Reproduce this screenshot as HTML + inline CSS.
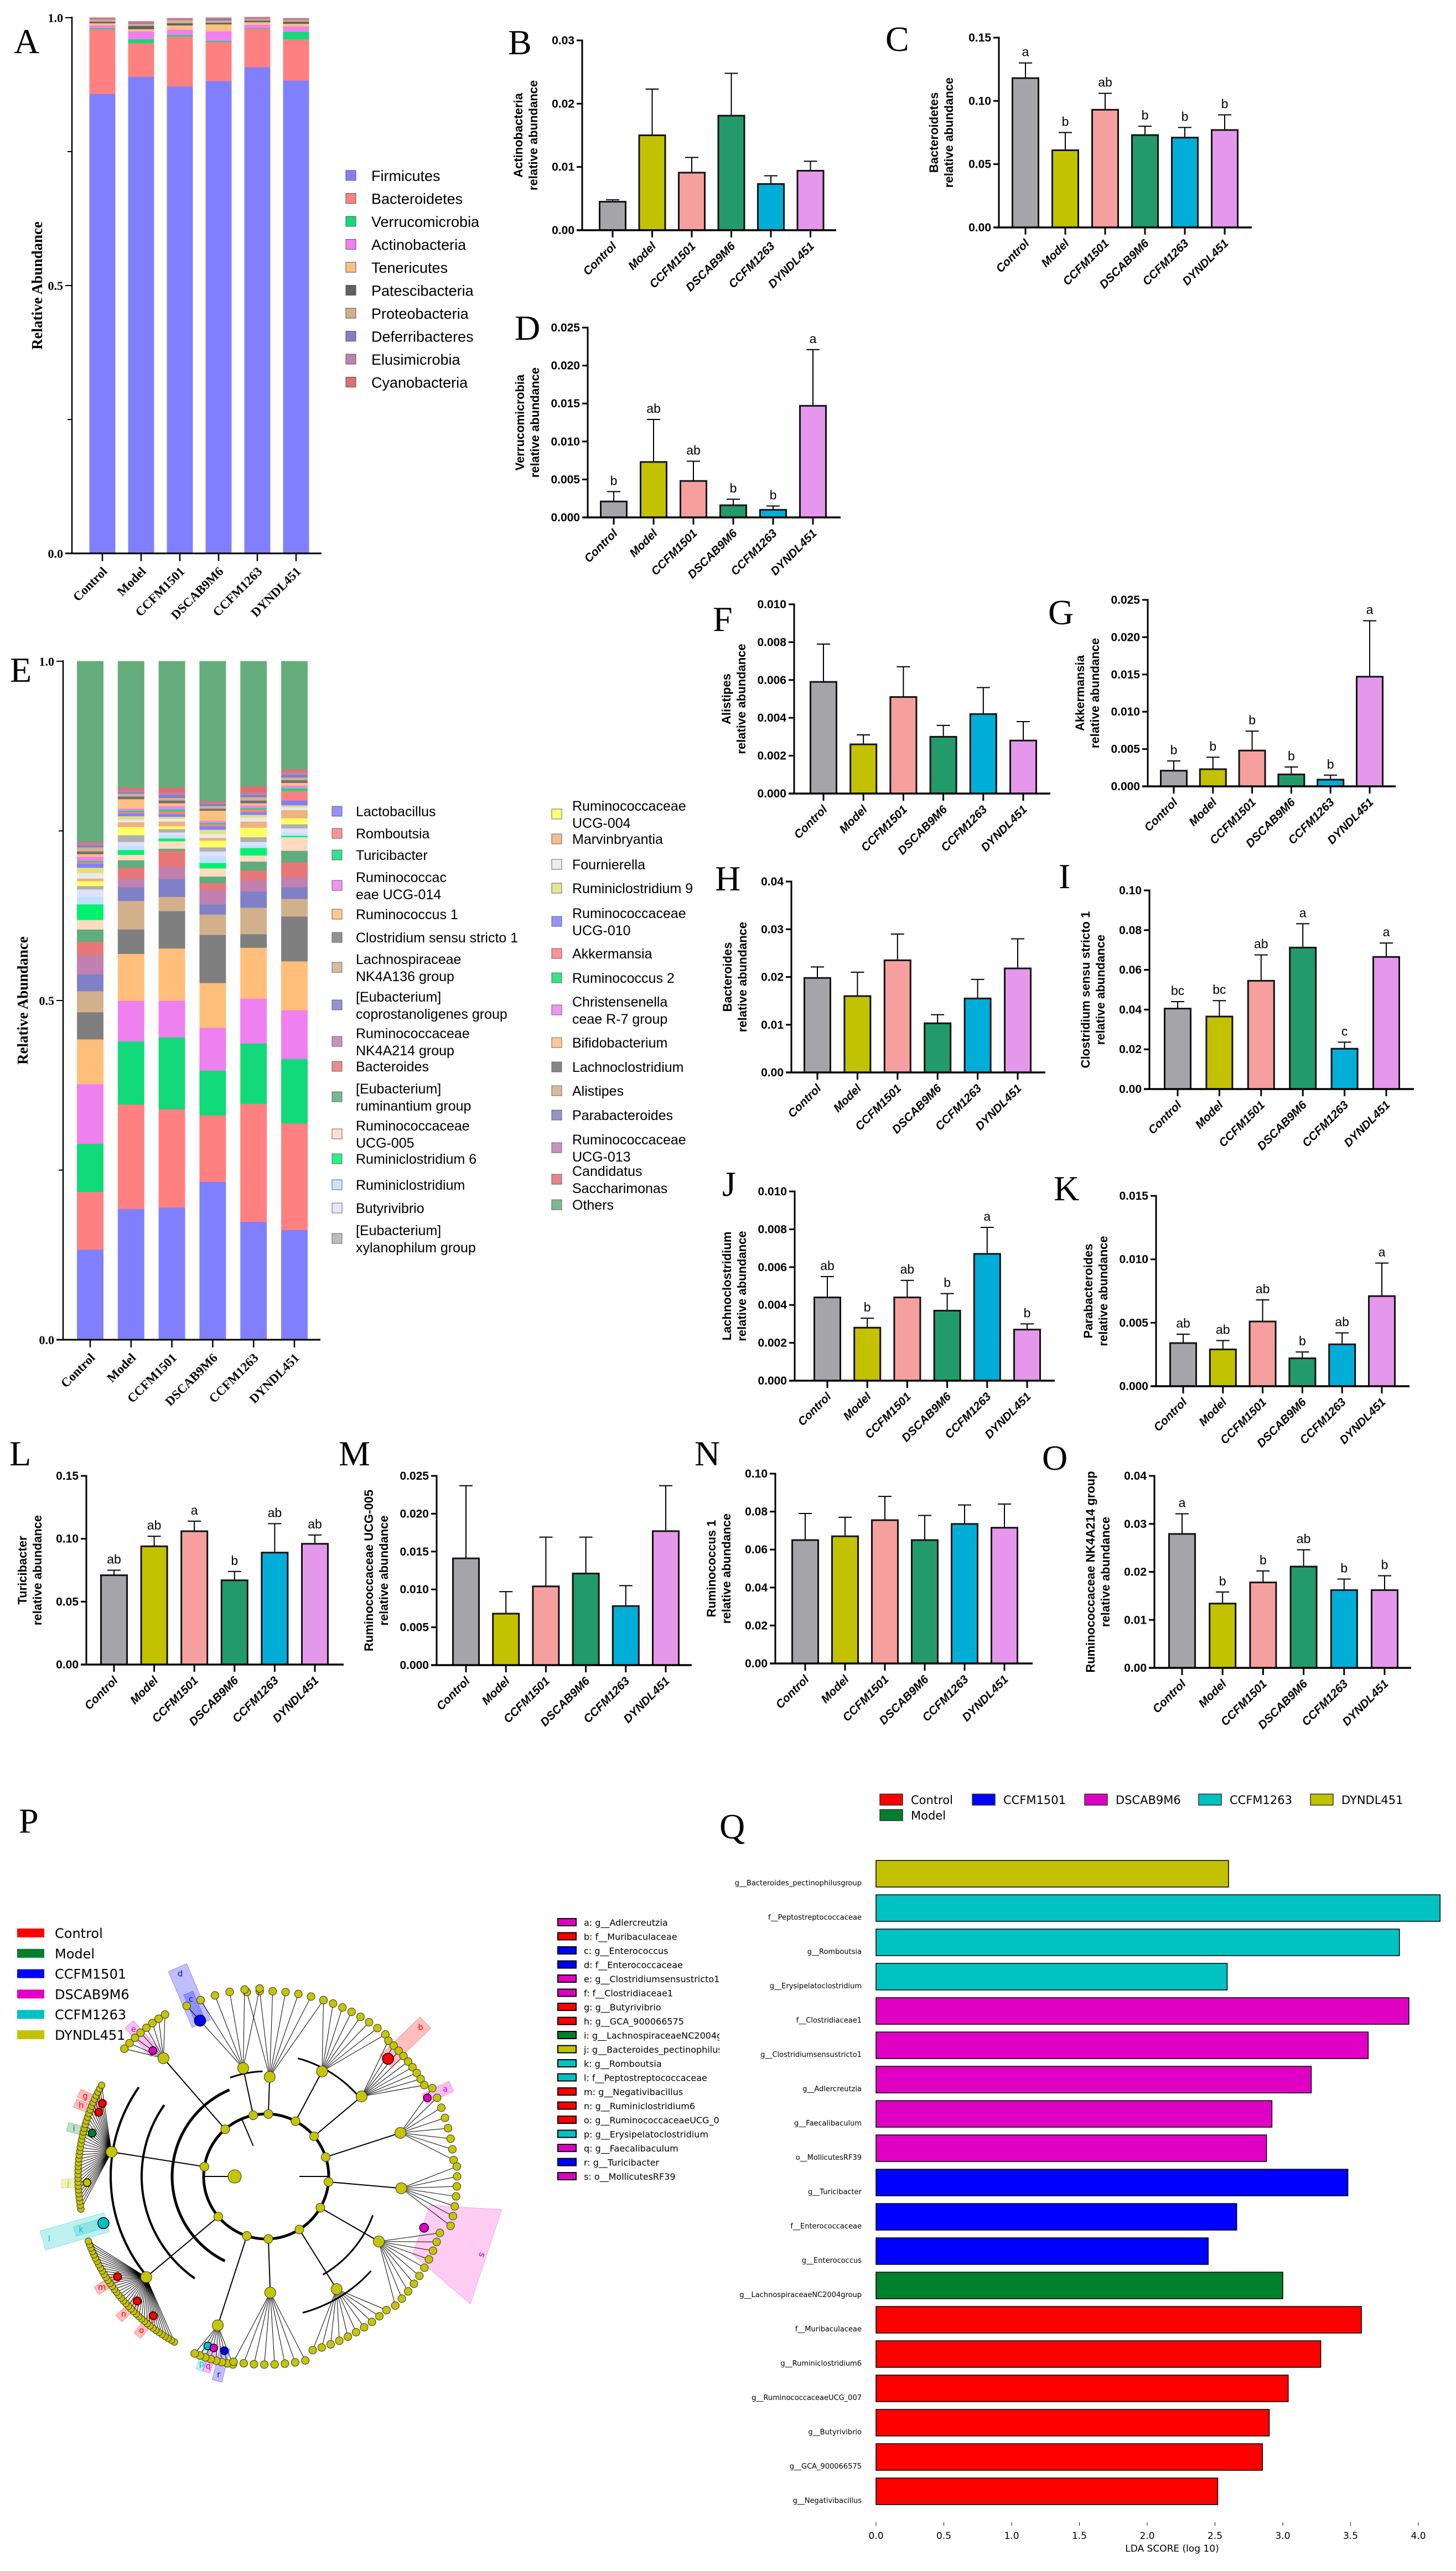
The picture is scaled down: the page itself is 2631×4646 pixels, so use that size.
<!DOCTYPE html>
<html><head><meta charset="utf-8"><title>Figure</title>
<style>html,body{margin:0;padding:0;background:#fff}svg{display:block}</style></head>
<body>
<svg id="fig" xmlns="http://www.w3.org/2000/svg" width="2631" height="4646" viewBox="0 0 2631 4646">
<defs><clipPath id="pclip"><rect x="0" y="3200" width="1300" height="1446"/></clipPath></defs>
<rect x="0" y="0" width="2631" height="4646" fill="#fff"/>
</svg>
<script>
// ---------------- DATA ----------------
const groups = ['Control','Model','CCFM1501','DSCAB9M6','CCFM1263','DYNDL451'];
const groupColors = ['#a5a4a9','#c2c200','#f5a09e','#239a6c','#00aed8','#e597eb'];

const aPhyla = ['Firmicutes','Bacteroidetes','Verrucomicrobia','Actinobacteria','Tenericutes','Patescibacteria','Proteobacteria','Deferribacteres','Elusimicrobia','Cyanobacteria'];
const aColors = ['#8080ff','#ff8080','#14d978','#f080f0','#ffc080','#606060','#d2b08c','#7f80c0','#c080b0','#e07070'];
const aValues = [
 [0.858,0.890,0.872,0.882,0.908,0.883],
 [0.121,0.063,0.093,0.073,0.072,0.077],
 [0.002,0.007,0.003,0.002,0.001,0.014],
 [0.005,0.015,0.010,0.018,0.006,0.010],
 [0.004,0.004,0.008,0.013,0.005,0.005],
 [0.003,0.006,0.004,0.003,0.003,0.004],
 [0.004,0.004,0.006,0.004,0.003,0.003],
 [0.001,0.002,0.001,0.003,0.001,0.001],
 [0.001,0.001,0.001,0.001,0.001,0.001],
 [0.001,0.001,0.001,0.001,0.001,0.001]
];

const eTaxa = ['Lactobacillus','Romboutsia','Turicibacter','Ruminococcaceae UCG-014','Ruminococcus 1','Clostridium sensu stricto 1','Lachnospiraceae NK4A136 group','[Eubacterium] coprostanoligenes group','Ruminococcaceae NK4A214 group','Bacteroides','[Eubacterium] ruminantium group','Ruminococcaceae UCG-005','Ruminiclostridium 6','Ruminiclostridium','Butyrivibrio','[Eubacterium] xylanophilum group','Ruminococcaceae UCG-004','Marvinbryantia','Fournierella','Ruminiclostridium 9','Ruminococcaceae UCG-010','Akkermansia','Ruminococcus 2','Christensenellaceae R-7 group','Bifidobacterium','Lachnoclostridium','Alistipes','Parabacteroides','Ruminococcaceae UCG-013','Candidatus Saccharimonas','Others'];
const eColors = ['#8080ff','#ff8080','#12d97a','#ef80ef','#ffbf7a','#7f7f7f','#d2b08c','#8080c8','#c080b0','#e87878','#5fac7c','#ffdcc0','#00f070','#c0e0ff','#e0e0ff','#b0b0b0','#ffff60','#f0b080','#eaeaea','#e0e080','#8080ff','#ff8080','#10e070','#f080f0','#ffc080','#707070','#d0b090','#8080c0','#c080b0','#e07070','#65ad7c'];
const eValues = [
 [0.133,0.193,0.195,0.233,0.174,0.162],
 [0.085,0.154,0.145,0.098,0.174,0.157],
 [0.071,0.093,0.106,0.066,0.089,0.095],
 [0.088,0.060,0.054,0.063,0.066,0.072],
 [0.066,0.069,0.077,0.066,0.075,0.072],
 [0.040,0.036,0.055,0.071,0.020,0.066],
 [0.031,0.042,0.021,0.030,0.039,0.026],
 [0.025,0.020,0.026,0.015,0.024,0.017],
 [0.028,0.013,0.018,0.021,0.016,0.015],
 [0.020,0.016,0.024,0.010,0.015,0.022],
 [0.018,0.011,0.003,0.010,0.013,0.017],
 [0.014,0.008,0.011,0.012,0.009,0.020],
 [0.023,0.007,0.004,0.008,0.011,0.002],
 [0.011,0.006,0.005,0.010,0.004,0.004],
 [0.011,0.006,0.004,0.007,0.005,0.007],
 [0.005,0.010,0.005,0.006,0.007,0.006],
 [0.007,0.012,0.004,0.010,0.014,0.009],
 [0.004,0.007,0.007,0.004,0.009,0.012],
 [0.008,0.004,0.004,0.006,0.006,0.004],
 [0.008,0.005,0.003,0.006,0.004,0.003],
 [0.006,0.004,0.004,0.005,0.004,0.007],
 [0.002,0.002,0.004,0.003,0.004,0.014],
 [0.002,0.002,0.003,0.002,0.002,0.004],
 [0.006,0.003,0.005,0.003,0.004,0.004],
 [0.004,0.014,0.004,0.015,0.003,0.004],
 [0.004,0.004,0.004,0.003,0.004,0.004],
 [0.006,0.004,0.004,0.004,0.005,0.004],
 [0.003,0.002,0.004,0.003,0.003,0.004],
 [0.003,0.003,0.004,0.002,0.004,0.004],
 [0.002,0.004,0.007,0.002,0.009,0.004],
 [0.266,0.186,0.186,0.206,0.184,0.159]
];

const bVals=[0.0045,0.0150,0.0091,0.0181,0.0073,0.0094], bErrs=[0.0003,0.0073,0.0024,0.0067,0.0013,0.0015], bLetters=['','','','','',''];
const cVals=[0.118,0.061,0.093,0.073,0.071,0.077], cErrs=[0.012,0.014,0.013,0.007,0.008,0.012], cLetters=['a','b','ab','b','b','b'];
const dVals=[0.0021,0.0073,0.0048,0.0016,0.0010,0.0147], dErrs=[0.0013,0.0056,0.0026,0.0008,0.0005,0.0074], dLetters=['b','ab','ab','b','b','a'];
const fVals=[0.0059,0.0026,0.0051,0.0030,0.0042,0.0028], fErrs=[0.0020,0.0005,0.0016,0.0006,0.0014,0.0010], fLetters=['','','','','',''];
const gVals=[0.0021,0.0023,0.0048,0.0016,0.0009,0.0147], gErrs=[0.0013,0.0016,0.0026,0.0010,0.0006,0.0075], gLetters=['b','b','b','b','b','a'];
const hVals=[0.0198,0.0160,0.0235,0.0103,0.0155,0.0218], hErrs=[0.0023,0.0050,0.0055,0.0018,0.0040,0.0062], hLetters=['','','','','',''];
const iVals=[0.0405,0.0365,0.0545,0.0712,0.0203,0.0665], iErrs=[0.0035,0.0080,0.0130,0.0120,0.0033,0.0070], iLetters=['bc','bc','ab','a','c','a'];
const jVals=[0.0044,0.0028,0.0044,0.0037,0.0067,0.0027], jErrs=[0.0011,0.0005,0.0009,0.0009,0.0014,0.0003], jLetters=['ab','b','ab','b','a','b'];
const kVals=[0.0034,0.0029,0.0051,0.0022,0.0033,0.0071], kErrs=[0.0007,0.0007,0.0017,0.0005,0.0009,0.0026], kLetters=['ab','ab','ab','b','ab','a'];
const lVals=[0.071,0.094,0.106,0.067,0.089,0.096], lErrs=[0.004,0.008,0.008,0.007,0.023,0.007], lLetters=['ab','ab','a','b','ab','ab'];
const mVals=[0.0141,0.0068,0.0104,0.0121,0.0078,0.0177], mErrs=[0.0096,0.0029,0.0065,0.0048,0.0027,0.0060], mLetters=['','','','','',''];
const nVals=[0.065,0.067,0.0755,0.065,0.0735,0.0715], nErrs=[0.014,0.010,0.0125,0.013,0.010,0.0125], nLetters=['','','','','',''];
const oVals=[0.0279,0.0134,0.0178,0.0211,0.0162,0.0162], oErrs=[0.0042,0.0024,0.0024,0.0035,0.0023,0.0030], oLetters=['a','b','b','ab','b','b'];

const ldaClasses = ['Control','Model','CCFM1501','DSCAB9M6','CCFM1263','DYNDL451'];
const ldaColors = ['#ff0000','#007f2d','#0000ff','#e000c4','#00c2c2','#c2c200'];
const qLabels = ['g__Bacteroides_pectinophilusgroup','f__Peptostreptococcaceae','g__Romboutsia','g__Erysipelatoclostridium','f__Clostridiaceae1','g__Clostridiumsensustricto1','g__Adlercreutzia','g__Faecalibaculum','o__MollicutesRF39','g__Turicibacter','f__Enterococcaceae','g__Enterococcus','g__LachnospiraceaeNC2004group','f__Muribaculaceae','g__Ruminiclostridium6','g__RuminococcaceaeUCG_007','g__Butyrivibrio','g__GCA_900066575','g__Negativibacillus'];
const qValues = [2.60,4.16,3.86,2.59,3.93,3.63,3.21,2.92,2.88,3.48,2.66,2.45,3.00,3.58,3.28,3.04,2.90,2.85,2.52];
const qClass = [5,4,4,4,3,3,3,3,3,2,2,2,1,0,0,0,0,0,0];
const qTicks = [0,0.5,1,1.5,2,2.5,3,3.5,4];

const pBiomarkers = ['a: g__Adlercreutzia','b: f__Muribaculaceae','c: g__Enterococcus','d: f__Enterococcaceae','e: g__Clostridiumsensustricto1','f: f__Clostridiaceae1','g: g__Butyrivibrio','h: g__GCA_900066575','i: g__LachnospiraceaeNC2004group','j: g__Bacteroides_pectinophilusgroup','k: g__Romboutsia','l: f__Peptostreptococcaceae','m: g__Negativibacillus','n: g__Ruminiclostridium6','o: g__RuminococcaceaeUCG_007','p: g__Erysipelatoclostridium','q: g__Faecalibaculum','r: g__Turicibacter','s: o__MollicutesRF39'];
const pBiomarkerClass = [3,0,2,2,3,3,0,0,1,5,4,4,0,0,0,4,3,2,3];

// ---------------- HELPERS ----------------
const NS='http://www.w3.org/2000/svg';
const root=document.getElementById('fig');
const SANS='"Liberation Sans", Arial, sans-serif';
const SERIF='"Liberation Serif", "Times New Roman", serif';
const DJ='"DejaVu Sans", "Liberation Sans", sans-serif';
function el(tag, attrs, name, parent){
  const e=document.createElementNS(NS,tag);
  for(const k in attrs) e.setAttribute(k, attrs[k]);
  
  
  (parent||root).appendChild(e);
  return e;
}
function txt(x,y,s,style,name,parent,extra){
  const e=el('text',Object.assign({x:x,y:y},extra||{}),name,parent);
  e.setAttribute('style',style);
  e.textContent=s;
  return e;
}
function panelLabel(s,x,y){
  txt(x,y,s,'font-family:'+SERIF+';font-size:64px;fill:#000','panel-label-'+s.toLowerCase());
}

// ---------------- BAR CHARTS ----------------
function barChart(p){
  const G=el('g',{},'panel-'+p.key);
  const g=p.g;
  const ys=v=>g.y0-v/g.max*(g.y0-g.yTop);
  const xc=i=>g.c0+i*g.pitch;
  for(let i=0;i<groups.length;i++){
    const v=p.vals[i], e=p.errs[i];
    const top=ys(v), et=ys(v+e);
    el('line',{x1:xc(i),y1:top,x2:xc(i),y2:et,stroke:'#000','stroke-width':2},'error-bar-'+groups[i].toLowerCase(),G);
    el('line',{x1:xc(i)-12,y1:et,x2:xc(i)+12,y2:et,stroke:'#000','stroke-width':2},'error-cap-'+groups[i].toLowerCase(),G);
    el('rect',{x:xc(i)-g.w/2,y:top,width:g.w,height:g.y0-top,fill:groupColors[i],stroke:'#111','stroke-width':3},'bar-'+groups[i].toLowerCase(),G);
    if(p.letters[i]) txt(xc(i),et-12,p.letters[i],'font-family:'+SANS+';font-size:23px;fill:#000','significance-letter',G,{'text-anchor':'middle'});
    el('line',{x1:xc(i),y1:g.y0,x2:xc(i),y2:g.y0+13,stroke:'#000','stroke-width':3},'x-tick',G);
    txt(xc(i)+8,g.y0+30,groups[i],'font-family:'+SANS+';font-size:21px;font-weight:bold;font-style:italic;fill:#000','x-tick-label',G,{'text-anchor':'end',transform:'rotate(-45 '+(xc(i)+8)+' '+(g.y0+30)+')'});
  }
  el('line',{x1:g.ax,y1:g.y0+1.5,x2:g.ax,y2:g.yTop-1.5,stroke:'#000','stroke-width':3},'y-axis',G);
  el('line',{x1:g.ax-10,y1:g.y0,x2:g.xEnd,y2:g.y0,stroke:'#000','stroke-width':3.5},'x-axis',G);
  p.ticks.forEach(t=>{
    el('line',{x1:g.ax-10,y1:ys(t),x2:g.ax,y2:ys(t),stroke:'#000','stroke-width':3},'y-tick',G);
    txt(g.ax-14,ys(t)+7,t.toFixed(p.dec),'font-family:'+SANS+';font-size:21px;font-weight:bold;fill:#000','y-tick-label',G,{'text-anchor':'end'});
  });
  const ym=(g.y0+g.yTop)/2;
  txt(g.ax-p.tOff,ym,p.t1,'font-family:'+SANS+';font-size:22px;font-weight:bold;fill:#000','y-axis-title',G,{'text-anchor':'middle',transform:'rotate(-90 '+(g.ax-p.tOff)+' '+ym+')'});
  txt(g.ax-p.tOff+27,ym,'relative abundance','font-family:'+SANS+';font-size:22px;font-weight:bold;fill:#000','y-axis-title',G,{'text-anchor':'middle',transform:'rotate(-90 '+(g.ax-p.tOff+27)+' '+ym+')'});
  panelLabel(p.label,p.lx,p.ly);
}
function ticks(max,step){const a=[];for(let v=0;v<=max+1e-9;v+=step)a.push(Math.round(v*1e6)/1e6);return a;}

barChart({key:'b',label:'B',lx:918,ly:98,vals:bVals,errs:bErrs,letters:bLetters,ticks:ticks(0.03,0.01),dec:2,t1:'Actinobacteria',tOff:108,
  g:{ax:1052,y0:416,yTop:73,max:0.03,xEnd:1511,c0:1107,pitch:71.5,w:47}});
barChart({key:'c',label:'C',lx:1600,ly:92,vals:cVals,errs:cErrs,letters:cLetters,ticks:ticks(0.15,0.05),dec:2,t1:'Bacteroidetes',tOff:110,
  g:{ax:1805,y0:411,yTop:68,max:0.15,xEnd:2262,c0:1853,pitch:72,w:47}});
barChart({key:'d',label:'D',lx:930,ly:614,vals:dVals,errs:dErrs,letters:dLetters,ticks:ticks(0.025,0.005),dec:3,t1:'Verrucomicrobia',tOff:115,
  g:{ax:1062,y0:935,yTop:592,max:0.025,xEnd:1519,c0:1109,pitch:72,w:47}});
barChart({key:'f',label:'F',lx:1288,ly:1140,vals:fVals,errs:fErrs,letters:fLetters,ticks:ticks(0.010,0.002),dec:3,t1:'Alistipes',tOff:115,
  g:{ax:1435,y0:1434,yTop:1092,max:0.010,xEnd:1898,c0:1488,pitch:72.2,w:47}});
barChart({key:'g',label:'G',lx:1894,ly:1128,vals:gVals,errs:gErrs,letters:gLetters,ticks:ticks(0.025,0.005),dec:3,t1:'Akkermansia',tOff:115,
  g:{ax:2074,y0:1421,yTop:1084,max:0.025,xEnd:2522,c0:2121,pitch:70.8,w:47}});
barChart({key:'h',label:'H',lx:1292,ly:1609,vals:hVals,errs:hErrs,letters:hLetters,ticks:ticks(0.04,0.01),dec:2,t1:'Bacteroides',tOff:108,
  g:{ax:1430,y0:1938,yTop:1593,max:0.04,xEnd:1889,c0:1477,pitch:72.4,w:47}});
barChart({key:'i',label:'I',lx:1913,ly:1605,vals:iVals,errs:iErrs,letters:iLetters,ticks:ticks(0.10,0.02),dec:2,t1:'Clostridium sensu stricto 1',tOff:108,
  g:{ax:2077,y0:1968,yTop:1609,max:0.10,xEnd:2555,c0:2128,pitch:75.4,w:47}});
barChart({key:'j',label:'J',lx:1305,ly:2161,vals:jVals,errs:jErrs,letters:jLetters,ticks:ticks(0.010,0.002),dec:3,t1:'Lachnoclostridium',tOff:115,
  g:{ax:1436,y0:2495,yTop:2153,max:0.010,xEnd:1906,c0:1495,pitch:72.2,w:47}});
barChart({key:'k',label:'K',lx:1904,ly:2169,vals:kVals,errs:kErrs,letters:kLetters,ticks:ticks(0.015,0.005),dec:3,t1:'Parabacteroides',tOff:115,
  g:{ax:2089,y0:2505,yTop:2161,max:0.015,xEnd:2547,c0:2138,pitch:71.8,w:47}});
barChart({key:'l',label:'L',lx:17,ly:2648,vals:lVals,errs:lErrs,letters:lLetters,ticks:ticks(0.15,0.05),dec:2,t1:'Turicibacter',tOff:108,
  g:{ax:156,y0:3008,yTop:2667,max:0.15,xEnd:621,c0:206,pitch:72.6,w:47}});
barChart({key:'m',label:'M',lx:612,ly:2648,vals:mVals,errs:mErrs,letters:mLetters,ticks:ticks(0.025,0.005),dec:3,t1:'Ruminococcaceae UCG-005',tOff:115,
  g:{ax:789,y0:3009,yTop:2667,max:0.025,xEnd:1250,c0:842,pitch:72.2,w:47}});
barChart({key:'n',label:'N',lx:1255,ly:2648,vals:nVals,errs:nErrs,letters:nLetters,ticks:ticks(0.10,0.02),dec:2,t1:'Ruminococcus 1',tOff:108,
  g:{ax:1401,y0:3006,yTop:2663,max:0.10,xEnd:1866,c0:1455,pitch:72,w:47}});
barChart({key:'o',label:'O',lx:1883,ly:2656,vals:oVals,errs:oErrs,letters:oLetters,ticks:ticks(0.04,0.01),dec:2,t1:'Ruminococcaceae NK4A214 group',tOff:108,
  g:{ax:2086,y0:3014,yTop:2667,max:0.04,xEnd:2550,c0:2136,pitch:73.2,w:47}});

// ---------------- STACKED ----------------
function stacked(p){
  const G=el('g',{},'panel-'+p.key);
  const g=p.g;
  const ys=v=>g.y0-v*(g.y0-g.yTop);
  for(let i=0;i<groups.length;i++){
    let cum=0;
    const cx=g.c0+i*g.pitch;
    for(let s=0;s<p.values.length;s++){
      const v=p.values[s][i];
      const y1=ys(cum+v), y2=ys(cum);
      el('rect',{x:cx-g.w/2,y:y1,width:g.w,height:Math.max(0,y2-y1),fill:p.colors[s],stroke:p.colors[s],'stroke-width':1,'stroke-opacity':0.9},'stack-segment-'+p.names[s].toLowerCase().replace(/[^a-z0-9]+/g,'-'),G);
      cum+=v;
    }
    el('line',{x1:cx,y1:g.y0,x2:cx,y2:g.y0+14,stroke:'#000','stroke-width':2.5},'x-tick',G);
    txt(cx+10,g.y0+34,groups[i],'font-family:'+SERIF+';font-size:23px;font-weight:bold;fill:#000','x-tick-label',G,{'text-anchor':'end',transform:'rotate(-45 '+(cx+10)+' '+(g.y0+34)+')'});
  }
  el('line',{x1:g.ax,y1:g.y0+1,x2:g.ax,y2:g.yTop-2,stroke:'#000','stroke-width':2.5},'y-axis',G);
  el('line',{x1:g.ax-12,y1:g.y0,x2:g.xEnd,y2:g.y0,stroke:'#000','stroke-width':3},'x-axis',G);
  [0,0.25,0.5,0.75,1].forEach(t=>{
    el('line',{x1:g.ax-(t*4%2===0?12:8),y1:ys(t),x2:g.ax,y2:ys(t),stroke:'#000','stroke-width':2},'y-tick',G);
  });
  [0,0.5,1].forEach(t=>{
    txt(g.ax-16,ys(t)+8,t.toFixed(1),'font-family:'+SERIF+';font-size:22px;font-weight:bold;fill:#000','y-tick-label',G,{'text-anchor':'end'});
  });
  const ym=(g.y0+g.yTop)/2;
  txt(p.titleX,ym,'Relative Abundance','font-family:'+SERIF+';font-size:27px;font-weight:bold;fill:#000','y-axis-title',G,{'text-anchor':'middle',transform:'rotate(-90 '+p.titleX+' '+ym+')'});
}
stacked({key:'a',names:aPhyla,values:aValues,colors:aColors,titleX:76,g:{ax:130,y0:1000,yTop:32,xEnd:581,c0:185,pitch:70,w:46}});
panelLabel('A',25,96);
stacked({key:'e',names:eTaxa,values:eValues,colors:eColors,titleX:50,g:{ax:114,y0:2421,yTop:1195,xEnd:579,c0:163,pitch:73.8,w:47}});
panelLabel('E',18,1232);

// A legend
(function(){
  const G=el('g',{},'legend-a');
  aPhyla.forEach((n,i)=>{
    const y=317+41.5*i;
    el('rect',{x:625,y:y-9,width:18,height:18,fill:aColors[i],stroke:'#555','stroke-width':1},'legend-swatch',G);
    txt(671,y+10,n,'font-family:'+SANS+';font-size:27px;fill:#000','legend-entry',G);
  });
})();
// E legend
(function(){
  const G=el('g',{},'legend-e');
  const col1=[['Lactobacillus'],['Romboutsia'],['Turicibacter'],['Ruminococcac','eae UCG-014'],['Ruminococcus 1'],['Clostridium sensu stricto 1'],['Lachnospiraceae','NK4A136 group'],['[Eubacterium]','coprostanoligenes group'],['Ruminococcaceae','NK4A214 group'],['Bacteroides'],['[Eubacterium]','ruminantium group'],['Ruminococcaceae','UCG-005'],['Ruminiclostridium 6'],['Ruminiclostridium'],['Butyrivibrio'],['[Eubacterium]','xylanophilum group']];
  const y1=[1466,1506,1545,1585,1652,1694,1733,1801,1867,1927,1967,2034,2094,2141,2183,2223];
  const col2=[['Ruminococcaceae','UCG-004'],['Marvinbryantia'],['Fournierella'],['Ruminiclostridium 9'],['Ruminococcaceae','UCG-010'],['Akkermansia'],['Ruminococcus 2'],['Christensenella','ceae R-7 group'],['Bifidobacterium'],['Lachnoclostridium'],['Alistipes'],['Parabacteroides'],['Ruminococcaceae','UCG-013'],['Candidatus','Saccharimonas'],['Others']];
  const y2=[1456,1516,1562,1605,1650,1723,1767,1810,1884,1928,1971,2015,2059,2116,2177];
  function col(list,ys,sx,tx,off){
    list.forEach((lines,i)=>{
      const y=ys[i];
      const sy=lines.length>1?y+15:y;
      el('rect',{x:sx,y:sy-9,width:18,height:18,fill:eColors[off+i],'fill-opacity':0.85,stroke:'#666','stroke-width':1},'legend-swatch',G);
      lines.forEach((l,k)=>txt(tx,y+9+k*31,l,'font-family:'+SANS+';font-size:25px;fill:#000','legend-entry',G));
    });
  }
  col(col1,y1,600,643,0);
  col(col2,y2,997,1034,16);
})();

// ---------------- Q: LDA ----------------
(function(){
  const G=el('g',{},'panel-q');
  const x0=1583, unit=245, top0=3362, pitch=62, bh=48;
  const xs=v=>x0+v*unit;
  qValues.forEach((v,i)=>{
    const y=top0+i*pitch;
    el('rect',{x:x0,y:y,width:xs(v)-x0,height:bh,fill:ldaColors[qClass[i]],stroke:'#000','stroke-width':1.5},'lda-bar',G);
    txt(1557,y+bh-3,qLabels[i],'font-family:'+DJ+';font-size:13px;fill:#000','lda-feature-label',G,{'text-anchor':'end'});
  });
  qTicks.forEach(t=>{
    el('line',{x1:xs(t),y1:4558,x2:xs(t),y2:4564,stroke:'#000','stroke-width':1},'x-tick',G);
    txt(xs(t),4588,t.toFixed(1),'font-family:'+DJ+';font-size:17px;fill:#000','x-tick-label',G,{'text-anchor':'middle'});
  });
  txt(2118,4611,'LDA SCORE (log 10)','font-family:'+DJ+';font-size:17px;fill:#000','x-axis-title',G,{'text-anchor':'middle'});
  const lx=[1590,1757,1960,2166,2368], order=[0,2,3,4,5];
  order.forEach((c,k)=>{
    el('rect',{x:lx[k],y:3242,width:41,height:20,fill:ldaColors[c],stroke:'#333','stroke-width':1.5},'legend-swatch',G);
    txt(lx[k]+56,3260,ldaClasses[c],'font-family:'+DJ+';font-size:21px;fill:#000','legend-entry',G);
  });
  el('rect',{x:1590,y:3270,width:41,height:20,fill:ldaColors[1],stroke:'#333','stroke-width':1.5},'legend-swatch',G);
  txt(1646,3288,ldaClasses[1],'font-family:'+DJ+';font-size:21px;fill:#000','legend-entry',G);
})();
panelLabel('Q',1300,3322);

// ---------------- P: cladogram ----------------
const pArcs=[[113,0,359.9,5],[170,116,247,5],[225,125,215,4],[281,139,215,4],[221,-75,-40,3],[205,20,60,3],[255,42,75,3],[190,-110,-92,3]];
const pFans=[
 [283,189,170,209,34,340],[283,140,119,160,38,342],[283,229,222,238,8,345],[283,108,100,112,8,345],
 [180,-88,-96,-72,7,335],[215,-62,-72,-50,8,335],[225,-40,-48,-30,9,330],[255,-18,-28,-5,8,340],
 [245,5,-3,15,7,345],[235,30,18,45,10,330],[240,58,48,75,10,325],[210,88,78,100,8,340],[200,-102,-115,-92,6,340]];
const pHigh=[
 ['a',-26,3,318,372,10],['b',-44,0,300,400,14],['c',-113,2,300,360,9],['d',-113,2,300,410,18],['e',-132,3,300,370,10],
 ['g',-156,0,318,370,8],['h',-159,0,318,370,8],['i',-166,1,318,370,8],['j',178,5,318,370,8],['k',164,4,300,360,9],['l',164,4,300,420,18],
 ['m',146,0,318,370,8],['n',136,0,318,370,8],['o',129,0,318,370,8],['p',109,4,318,370,7],['q',107,3,318,370,7],['r',103.5,2,318,380,9]];
(function(){
  const G=el('g',{'clip-path':'url(#pclip)'},'panel-p-cladogram');
  const cx=481, cy=3933;
  const P=(r,a)=>[cx+r*Math.cos(a*Math.PI/180), cy+r*Math.sin(a*Math.PI/180)];
  (function(){
    const pts=[P(300,10),P(430,8),P(435,32),P(300,28)].map(p=>p.join(',')).join(' ');
    el('polygon',{points:pts,fill:'#ff80e0','fill-opacity':0.4,stroke:'#ff80e0','stroke-opacity':0.6},'highlight-s',G);
    const t=P(410,20);
    txt(t[0],t[1],'s','font-family:'+DJ+';font-size:16px;fill:#c000a0','highlight-letter',G,{'text-anchor':'middle',transform:'rotate(110 '+t[0]+' '+t[1]+')'});
  })();
  pHigh.forEach(h=>{
    const a=h[1]*Math.PI/180, ux=Math.cos(a), uy=Math.sin(a), vx=-uy, vy=ux;
    const c=ldaColors[h[2]];
    const pts=[[h[3],-h[5]],[h[4],-h[5]],[h[4],h[5]],[h[3],h[5]]].map(q=>[cx+q[0]*ux+q[1]*vx, cy+q[0]*uy+q[1]*vy].join(',')).join(' ');
    el('polygon',{points:pts,fill:c,'fill-opacity':0.25,stroke:c,'stroke-opacity':0.35},'highlight-'+h[0],G);
    const t=P(h[4]-12,h[1]);
    txt(t[0],t[1]+5,h[0],'font-family:'+DJ+';font-size:15px;fill:'+c,'highlight-letter',G,{'text-anchor':'middle'});
  });
  pArcs.forEach(a=>{
    const s=P(a[0],a[1]), e=P(a[0],a[2]);
    const large=(a[2]-a[1])>180?1:0;
    el('path',{d:'M'+s[0]+' '+s[1]+' A'+a[0]+' '+a[0]+' 0 '+large+' 1 '+e[0]+' '+e[1],fill:'none',stroke:'#000','stroke-width':a[3]},'clade-arc',G);
  });
  pFans.forEach(f=>{
    const a=P(113,f[1]), b=P(f[0],f[1]);
    el('line',{x1:a[0],y1:a[1],x2:b[0],y2:b[1],stroke:'#000','stroke-width':2},'clade-branch',G);
  });
  [[247,90],[0,-60],[180,60]].forEach(s=>{
    const a=P(60,s[0]), b=P(113,s[0]);
    el('line',{x1:a[0],y1:a[1],x2:b[0],y2:b[1],stroke:'#000','stroke-width':2},'clade-branch',G);
  });
  pFans.forEach(f=>{
    const hub=P(f[0],f[1]);
    for(let k=0;k<f[4];k++){
      const ang=f[2]+(f[3]-f[2])*(f[4]>1?k/(f[4]-1):0.5);
      const l=P(f[5],ang);
      el('line',{x1:hub[0],y1:hub[1],x2:l[0],y2:l[1],stroke:'#000','stroke-width':1},'leaf-branch',G);
      el('circle',{cx:l[0],cy:l[1],r:f[4]>20?6:7,fill:'#c5c500',stroke:'#333','stroke-width':1},'leaf-node',G);
    }
    el('circle',{cx:hub[0],cy:hub[1],r:10,fill:'#c5c500',stroke:'#333','stroke-width':1},'clade-node',G);
    const m=P(113,f[1]);
    el('circle',{cx:m[0],cy:m[1],r:8,fill:'#c5c500',stroke:'#333','stroke-width':1},'clade-node',G);
  });
  pHigh.forEach(h=>{
    const p=P(h[3]+6,h[1]);
    el('circle',{cx:p[0],cy:p[1],r:h[5]>12?10:7,fill:ldaColors[h[2]],stroke:'#000','stroke-width':1.5},'biomarker-node',G);
  });
  const sn=P(300,18);
  el('circle',{cx:sn[0],cy:sn[1],r:8,fill:ldaColors[3],stroke:'#000','stroke-width':1.5},'biomarker-node',G);
  el('circle',{cx:cx-57,cy:cy,r:12,fill:'#c5c500',stroke:'#333','stroke-width':1},'root-node',G);
  ldaClasses.forEach((c,i)=>{
    const y=3493+36.8*i;
    el('rect',{x:31,y:y-8,width:49,height:16,fill:ldaColors[i]},'legend-swatch',G);
    txt(99,y+9,c,'font-family:'+DJ+';font-size:24px;fill:#000','legend-entry',G);
  });
  pBiomarkers.forEach((b,i)=>{
    const y=3474+25.5*i;
    el('rect',{x:1008,y:y-7,width:33,height:13,fill:ldaColors[pBiomarkerClass[i]],stroke:'#000','stroke-width':2},'legend-swatch',G);
    txt(1055,y+6,b,'font-family:'+DJ+';font-size:16px;fill:#000','legend-entry',G);
  });
})();
panelLabel('P',34,3312);
</script>
</body></html>
